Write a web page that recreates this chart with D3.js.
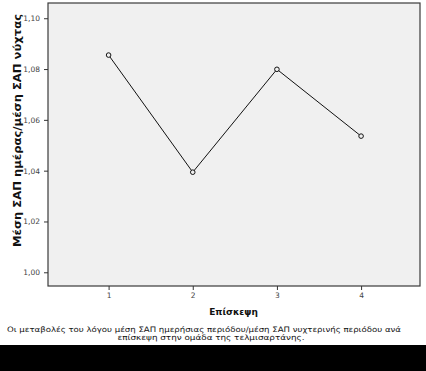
<!DOCTYPE html>
<html>
<head>
<meta charset="utf-8">
<script src="https://cdn.jsdelivr.net/npm/d3@7"></script>
<style>
  body { margin: 0; background: #fff; }
  svg { display: block; }
</style>
</head>
<body>
<div id="chart"></div>
<script>
// Data
const visits = [1, 2, 3, 4];
const ratioMeans = [1.0855, 1.0394, 1.0799, 1.0536];
const yTicks = [1.00, 1.02, 1.04, 1.06, 1.08, 1.10];
const yLabel = "Μέση ΣΑΠ ημέρας/μέση ΣΑΠ νύχτας";
const xLabel = "Επίσκεψη";
const captionLines = [
  "Οι μεταβολές του λόγου μέση ΣΑΠ ημερήσιας περιόδου/μέση ΣΑΠ νυχτερινής περιόδου ανά",
  "επίσκεψη στην ομάδα της τελμισαρτάνης."
];

const width = 426, height = 371;
const plot = { left: 48, top: 3, right: 420, bottom: 286 };

const svg = d3.select("#chart").append("svg")
  .attr("width", width)
  .attr("height", height);

// Scales
const x = d3.scaleLinear().domain([0.28, 4.7]).range([plot.left, plot.right]);
const y = d3.scaleLinear().domain([0.9946, 1.106]).range([plot.bottom, plot.top]);

// Plot background
svg.append("rect")
  .attr("x", plot.left)
  .attr("y", plot.top)
  .attr("width", plot.right - plot.left)
  .attr("height", plot.bottom - plot.top)
  .attr("fill", "#f0f0f0")
  .attr("stroke", "#3a3a3a")
  .attr("stroke-width", 1.2);

// Axes
const yAxis = d3.axisLeft(y)
  .tickValues(yTicks)
  .tickSize(4)
  .tickFormat(d => d3.format(".2f")(d).replace(".", ","));
const gy = svg.append("g")
  .attr("transform", `translate(${plot.left},0)`)
  .call(yAxis);

const xAxis = d3.axisBottom(x)
  .tickValues(visits)
  .tickSize(4)
  .tickFormat(d3.format("d"));
const gx = svg.append("g")
  .attr("transform", `translate(0,${plot.bottom})`)
  .call(xAxis);

[gy, gx].forEach(g => {
  g.select(".domain").remove();
  g.selectAll(".tick line").attr("stroke", "#333");
  g.selectAll(".tick text")
    .attr("font-family", "DejaVu Sans, sans-serif")
    .attr("font-size", "7.5px")
    .attr("fill", "#444");
});
gy.selectAll(".tick text").attr("dx", "-1px");

// Line and markers
const line = d3.line()
  .x((d, i) => x(visits[i]))
  .y(d => y(d));

svg.append("path")
  .datum(ratioMeans)
  .attr("d", line)
  .attr("fill", "none")
  .attr("stroke", "#111")
  .attr("stroke-width", 1);

svg.selectAll("circle.pt")
  .data(ratioMeans)
  .enter().append("circle")
  .attr("class", "pt")
  .attr("cx", (d, i) => x(visits[i]))
  .attr("cy", d => y(d))
  .attr("r", 2.3)
  .attr("fill", "#f0f0f0")
  .attr("stroke", "#111")
  .attr("stroke-width", 1);

// Axis titles
svg.append("text")
  .attr("transform", "translate(21,130.5) rotate(-90)")
  .attr("text-anchor", "middle")
  .attr("font-family", "DejaVu Sans, sans-serif")
  .attr("font-weight", "bold")
  .attr("font-size", "9.8px")
  .attr("textLength", 233)
  .attr("lengthAdjust", "spacingAndGlyphs")
  .attr("fill", "#111")
  .text(yLabel);

svg.append("text")
  .attr("x", 233.5)
  .attr("y", 314.5)
  .attr("text-anchor", "middle")
  .attr("font-family", "DejaVu Sans, sans-serif")
  .attr("font-weight", "bold")
  .attr("font-size", "9px")
  .attr("fill", "#111")
  .text(xLabel);

// Caption
const captionX = [204, 211];
const captionW = [394, 187];
svg.selectAll("text.caption")
  .data(captionLines)
  .enter().append("text")
  .attr("class", "caption")
  .attr("x", (d, i) => captionX[i])
  .attr("y", (d, i) => 332 + i * 8)
  .attr("text-anchor", "middle")
  .attr("font-family", "DejaVu Sans, sans-serif")
  .attr("font-size", "7.4px")
  .attr("textLength", (d, i) => captionW[i])
  .attr("lengthAdjust", "spacingAndGlyphs")
  .attr("fill", "#111")
  .text(d => d);

// Black band at the bottom
svg.append("rect")
  .attr("x", 0)
  .attr("y", 345)
  .attr("width", width)
  .attr("height", height - 345)
  .attr("fill", "#000");
</script>
</body>
</html>
